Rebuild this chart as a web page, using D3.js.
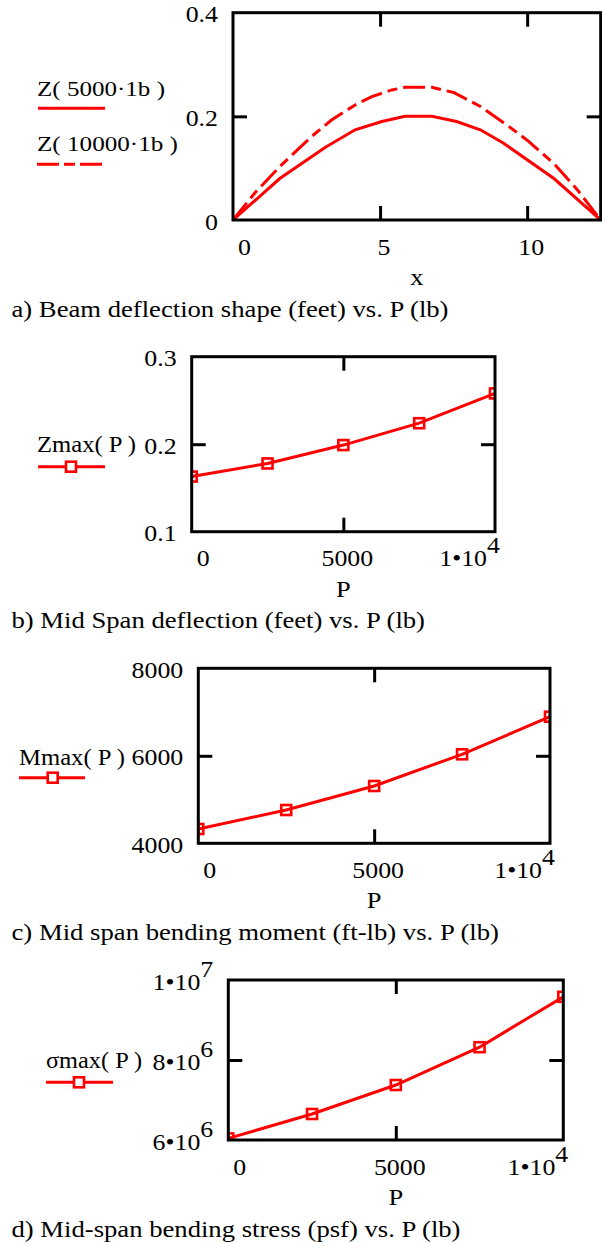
<!DOCTYPE html>
<html>
<head>
<meta charset="utf-8">
<script src="https://cdn.jsdelivr.net/npm/d3@7"></script>
<style>
body { margin: 0; background: #fff; }
svg text { font-family: "Liberation Serif", "Times New Roman", Times, serif; fill: #000; }
.tick line { stroke: #000; stroke-width: 3; }
</style>
</head>
<body>
<svg id="chart" width="602" height="1243"></svg>
<script>
// a) beam deflection shape
var beam_x_5000 = [0, 1.59, 3.13, 4.15, 5.06, 5.85, 6.76, 7.6, 8.41, 9.2, 10.91, 12.5];
var z_5000 = [0, 0.080, 0.140, 0.174, 0.190, 0.200, 0.200, 0.190, 0.174, 0.148, 0.080, 0];
var beam_x_10000 = [0, 0.74, 1.59, 2.67, 3.35, 4.15, 4.72, 5.4, 5.85, 6.76, 7.5, 8.41, 9.32, 10.0, 10.91, 11.71, 12.5];
var z_10000 = [0, 0.052, 0.103, 0.161, 0.193, 0.222, 0.238, 0.251, 0.256, 0.256, 0.246, 0.219, 0.183, 0.154, 0.109, 0.058, 0];

// b, c, d) values vs load P
var P_values = [0, 2500, 5000, 7500, 10000];
var zmax_values = [0.163, 0.178, 0.199, 0.224, 0.258];
var mmax_values = [4327, 4761, 5310, 6034, 6894];
var smax_values = [6.04e6, 6.65e6, 7.375e6, 8.32e6, 9.58e6];

// tick labels
var a_x_ticks = [0, 5, 10];
var a_x_labels = ["0", "5", "10"];
var a_y_ticks = [0, 0.2, 0.4];
var a_y_labels = ["0", "0.2", "0.4"];
var P_ticks = [0, 5000, 10000];
var P_labels = ["0", "5000", "1\u202210^4"];
var b_y_ticks = [0.1, 0.2, 0.3];
var b_y_labels = ["0.1", "0.2", "0.3"];
var c_y_ticks = [4000, 6000, 8000];
var c_y_labels = ["4000", "6000", "8000"];
var d_y_ticks = [6e6, 8e6, 1e7];
var d_y_labels = ["6\u202210^6", "8\u202210^6", "1\u202210^7"];

var captions = [
    "a) Beam deflection shape (feet) vs. P (lb)",
    "b) Mid Span deflection (feet) vs. P (lb)",
    "c) Mid span bending moment (ft-lb) vs. P (lb)",
    "d) Mid-span bending stress (psf) vs. P (lb)"
];

var RED = "#ff0000";
var svg = d3.select("#chart");

function tick_label(g, x, y, txt, anchor)
{
    var parts = txt.split("^");
    var t = g.append("text")
        .attr("transform", "translate(" + x + "," + y + ") scale(1.15,1)")
        .attr("text-anchor", anchor)
        .style("font-size", "22.5px");
    t.append("tspan").text(parts[0]);
    if (parts.length > 1)
        t.append("tspan").attr("dy", -13).text(parts[1]);
}

function fitted_text(g, x, y, txt, size, len)
{
    g.append("text")
        .attr("x", x)
        .attr("y", y)
        .attr("textLength", len)
        .attr("lengthAdjust", "spacingAndGlyphs")
        .style("font-size", size + "px")
        .text(txt);
}

function draw_panel(p)
{
    var g = svg.append("g");
    var x = d3.scaleLinear().domain(p.x_domain).range([p.left, p.right]);
    var y = d3.scaleLinear().domain(p.y_domain).range([p.bottom, p.top]);
    var inner_x = p.x_ticks.slice(1, p.x_ticks.length).filter(function (v) { return v < p.x_domain[1]; });
    var inner_y = p.y_ticks.slice(1, p.y_ticks.length - 1);

    var clip_id = "clip" + p.id;
    svg.append("clipPath").attr("id", clip_id)
        .append("rect")
        .attr("x", p.left).attr("y", p.top)
        .attr("width", p.right - p.left).attr("height", p.bottom - p.top);

    // inner ticks on all four sides
    g.append("g").attr("transform", "translate(0," + p.bottom + ")")
        .call(d3.axisTop(x).tickValues(inner_x).tickSize(14).tickFormat(""));
    g.append("g").attr("transform", "translate(0," + p.top + ")")
        .call(d3.axisBottom(x).tickValues(inner_x).tickSize(14).tickFormat(""));
    g.append("g").attr("transform", "translate(" + p.left + ",0)")
        .call(d3.axisRight(y).tickValues(inner_y).tickSize(14).tickFormat(""));
    g.append("g").attr("transform", "translate(" + p.right + ",0)")
        .call(d3.axisLeft(y).tickValues(inner_y).tickSize(14).tickFormat(""));
    g.selectAll(".domain").remove();

    // data
    var plot = g.append("g").attr("clip-path", "url(#" + clip_id + ")");
    p.series.forEach(function (s) {
        var pts = s.xs.map(function (v, i) { return [v, s.ys[i]]; });
        plot.append("path")
            .attr("d", d3.line().x(function (d) { return x(d[0]); }).y(function (d) { return y(d[1]); })(pts))
            .attr("fill", "none")
            .attr("stroke", RED)
            .attr("stroke-width", 3)
            .attr("stroke-dasharray", s.dash ? "22,6,10,6" : null);
        if (s.markers) {
            plot.selectAll(null).data(pts).enter().append("rect")
                .attr("x", function (d) { return x(d[0]) - 5; })
                .attr("y", function (d) { return y(d[1]) - 5; })
                .attr("width", 10).attr("height", 10)
                .attr("fill", "none")
                .attr("stroke", RED)
                .attr("stroke-width", 2.6);
        }
    });

    // frame
    g.append("rect")
        .attr("x", p.left).attr("y", p.top)
        .attr("width", p.right - p.left).attr("height", p.bottom - p.top)
        .attr("fill", "none").attr("stroke", "#000").attr("stroke-width", 3);

    // tick labels
    p.y_ticks.forEach(function (v, i) {
        tick_label(g, p.left - 15, y(v) + 9.5, p.y_labels[i], "end");
    });
    p.x_ticks.forEach(function (v, i) {
        if (i == 0)
            tick_label(g, p.left + 5, p.bottom + 34.5, p.x_labels[i], "start");
        else if (v == p.x_domain[1])
            tick_label(g, p.right + 5, p.bottom + 34.5, p.x_labels[i], "end");
        else
            tick_label(g, x(v) + 4, p.bottom + 34.5, p.x_labels[i], "middle");
    });

    // axis label
    g.append("text")
        .attr("transform", "translate(" + ((p.left + p.right) / 2) + "," + (p.bottom + 65) + ") scale(1.15,1)")
        .attr("text-anchor", "middle")
        .style("font-size", "23px")
        .text(p.x_name);

    // legend
    p.legend.forEach(function (l) {
        fitted_text(g, l.x, l.y, l.text, l.size, l.len);
        g.append("line")
            .attr("x1", l.x1).attr("x2", l.x2)
            .attr("y1", l.ly).attr("y2", l.ly)
            .attr("stroke", RED).attr("stroke-width", 3)
            .attr("stroke-dasharray", l.dash ? "22,5,11,5" : null);
        if (l.mx)
            g.append("rect")
                .attr("x", l.mx - 5).attr("y", l.ly - 5)
                .attr("width", 10).attr("height", 10)
                .attr("fill", "#fff").attr("stroke", RED).attr("stroke-width", 2.6);
    });

    // caption
    fitted_text(g, 11.5, p.bottom + 96.5, p.caption, 24, p.caption_len);
}

draw_panel({
    id: "a", left: 233, right: 600.7, top: 12.7, bottom: 220,
    x_domain: [0, 12.5], y_domain: [0, 0.4],
    x_ticks: a_x_ticks, x_labels: a_x_labels, y_ticks: a_y_ticks, y_labels: a_y_labels,
    x_name: "x",
    series: [
        {xs: beam_x_5000, ys: z_5000},
        {xs: beam_x_10000, ys: z_10000, dash: true}
    ],
    legend: [
        {text: "Z( 5000\u00b71b )", x: 37, y: 96, size: 21, len: 128, x1: 38, x2: 105, ly: 108.3},
        {text: "Z( 10000\u00b71b )", x: 37, y: 150.7, size: 21, len: 141, x1: 37, x2: 102, ly: 164.3, dash: true}
    ],
    caption: captions[0], caption_len: 437
});

draw_panel({
    id: "b", left: 191.7, right: 495, top: 356.7, bottom: 531.7,
    x_domain: [0, 10000], y_domain: [0.1, 0.3],
    x_ticks: P_ticks, x_labels: P_labels, y_ticks: b_y_ticks, y_labels: b_y_labels,
    x_name: "P",
    series: [{xs: P_values, ys: zmax_values, markers: true}],
    legend: [{text: "Zmax( P )", x: 37, y: 451.7, size: 23, len: 99, x1: 38, x2: 105, ly: 466.7, mx: 71}],
    caption: captions[1], caption_len: 413.5
});

draw_panel({
    id: "c", left: 198.3, right: 550, top: 668.3, bottom: 843.3,
    x_domain: [0, 10000], y_domain: [4000, 8000],
    x_ticks: P_ticks, x_labels: P_labels, y_ticks: c_y_ticks, y_labels: c_y_labels,
    x_name: "P",
    series: [{xs: P_values, ys: mmax_values, markers: true}],
    legend: [{text: "Mmax( P )", x: 19, y: 765, size: 23, len: 106, x1: 19, x2: 85, ly: 777.7, mx: 52.7}],
    caption: captions[2], caption_len: 487.5
});

draw_panel({
    id: "d", left: 228.3, right: 563.3, top: 980, bottom: 1140,
    x_domain: [0, 10000], y_domain: [6e6, 1e7],
    x_ticks: P_ticks, x_labels: P_labels, y_ticks: d_y_ticks, y_labels: d_y_labels,
    x_name: "P",
    series: [{xs: P_values, ys: smax_values, markers: true}],
    legend: [{text: "\u03c3max( P )", x: 46, y: 1068, size: 23, len: 96, x1: 46, x2: 113, ly: 1082.3, mx: 79}],
    caption: captions[3], caption_len: 449
});
</script>
</body>
</html>
